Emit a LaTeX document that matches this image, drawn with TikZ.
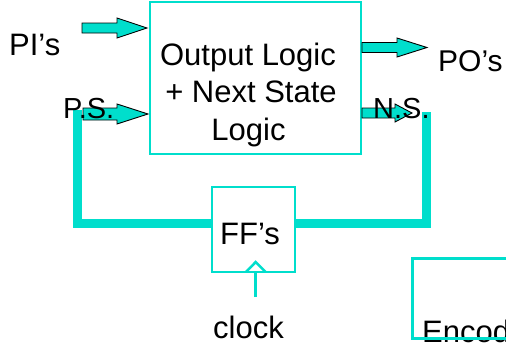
\documentclass[tikz,border=0pt]{standalone}
\usepackage{fontspec}
\setmainfont{Liberation Sans}
\definecolor{tq}{RGB}{0,222,204}
\tikzset{
  box/.style={draw=tq, line width=2.8pt, inner sep=0pt, fill=none},
  bus/.style={draw=tq, line width=9pt, line join=miter},
  barrow/.style={draw=black, line width=0.9pt, fill=tq, line join=miter},
  lbl/.style={inner sep=0pt, anchor=base west, font=\fontsize{31}{37.5}\selectfont},
  slbl/.style={inner sep=0pt, anchor=base west, font=\fontsize{29}{35}\selectfont},
  clbl/.style={inner sep=0pt, anchor=base, font=\fontsize{31}{37.5}\selectfont}
}
% block arrow: x-start, x-head, x-tip, y-centre, shaft half height, head half height
\newcommand\blockarrow[6]{%
  \draw[barrow] (#1,#4-#5) -- (#2,#4-#5) -- (#2,#4-#6) -- (#3,#4)
    -- (#2,#4+#6) -- (#2,#4+#5) -- (#1,#4+#5) -- cycle;}
\begin{document}
\begin{tikzpicture}[x=1pt,y=-1pt]
\useasboundingbox (0,0) rectangle (506,343);
\clip (0,0) rectangle (506,343);

% boxes
\node[box, minimum width=211pt, minimum height=152pt] (logic) at (255.5,78) {};
\node[box, minimum width=83pt, minimum height=85pt] (ff) at (253.5,229.5) {};

% feedback bus
\coordinate (psend) at (77.5,110);
\coordinate (busL) at (77.5,223);
\coordinate (nsend) at (426.5,112);
\coordinate (busR) at (426.5,223);
\draw[bus] (psend) -- (busL) -- (busL -| ff.west);
\draw[bus] (nsend) -- (busR) -- (busR -| ff.east);

% clock input
\coordinate (clk) at (255.5,297);
\draw[tq, line width=2.8pt] (clk) -- (clk |- ff.south);
\draw[tq, line width=2.5pt, line join=miter] (246,272) -- (255.7,262) -- (265.6,272);

% block arrows
\blockarrow{82}{117}{147}{28}{5}{10}
\blockarrow{83}{117}{148}{114}{6}{10}
\blockarrow{362}{397}{427}{47.5}{5}{9.5}
\blockarrow{362}{395}{412}{113}{5}{9}

% texts
\node[lbl] (pi) at (9,55) {PI’s};
\node[lbl, font=\fontsize{30}{36}\selectfont] (po) at (438,71) {PO’s};
\node[slbl] (ps) at (63,118) {P.S.};
\node[slbl] (ns) at (373,118) {N.S.};
\node[clbl] (t1) at (248,65) {Output Logic};
\node[clbl] (t2) at (251,102.7) {+ Next State};
\node[clbl] (t3) at (248.5,140) {Logic};
\node[lbl] (fft) at (220,244) {FF’s};
\node[lbl] (clock) at (213,338) {clock};

% encoder (cut off at the picture's edge, as in the reference)
\node[lbl] (enct) at (422,342) {Encoder};
\node[box, anchor=north west, minimum width=130pt, minimum height=80pt] (enc) at (411,257) {};
\end{tikzpicture}
\end{document}
